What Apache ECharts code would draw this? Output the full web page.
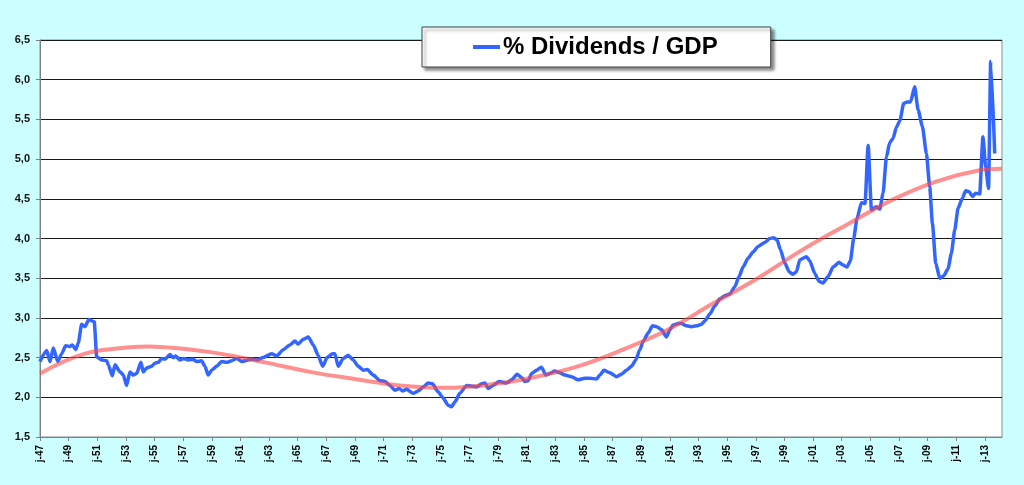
<!DOCTYPE html>
<html>
<head>
<meta charset="utf-8">
<script src="https://cdn.jsdelivr.net/npm/echarts@6/dist/echarts.min.js"></script>
<style>
	html, body {
		margin: 0;
		padding: 0;
		background: #ccffff;
	}

	#chart {
		width: 1024px;
		height: 485px;
	}
</style>
</head>
<body>
<div id="chart"></div>
<script>
	// % Dividends / GDP (year as decimal)
	var divYears = [
		1947.00, 1947.47, 1947.70, 1947.93, 1948.24, 1948.52, 1948.79, 1949.09, 1949.26, 1949.49,
		1949.67, 1949.91, 1950.14, 1950.42, 1950.65, 1950.79, 1950.96, 1951.31, 1951.66, 1951.77,
		1952.05, 1952.24, 1952.59, 1952.82, 1953.05, 1953.28, 1953.52, 1953.75, 1954.05, 1954.21,
		1954.45, 1954.80, 1955.03, 1955.26, 1955.50, 1955.73, 1956.08, 1956.31, 1956.48, 1956.78,
		1957.01, 1957.36, 1957.71, 1957.94, 1958.29, 1958.52, 1958.75, 1958.99, 1959.34, 1959.69,
		1960.04, 1960.39, 1960.74, 1961.09, 1961.55, 1961.90, 1962.14, 1962.59, 1963.18, 1963.53,
		1963.99, 1964.46, 1964.81, 1965.04, 1965.39, 1965.74, 1966.09, 1966.43, 1966.74, 1967.06,
		1967.44, 1967.60, 1967.83, 1968.18, 1968.53, 1968.88, 1969.23, 1969.58, 1969.86, 1970.28,
		1970.74, 1971.09, 1971.44, 1971.79, 1972.09, 1972.33, 1972.61, 1973.07, 1973.42, 1973.77,
		1974.12, 1974.42, 1974.81, 1975.16, 1975.51, 1975.75, 1975.98, 1976.33, 1976.80, 1977.15,
		1977.50, 1977.85, 1978.08, 1978.31, 1978.66, 1979.07, 1979.59, 1979.94, 1980.33, 1980.64,
		1980.87, 1981.10, 1981.34, 1981.69, 1982.03, 1982.34, 1982.61, 1982.96, 1983.31, 1983.66,
		1984.13, 1984.59, 1985.06, 1985.41, 1985.88, 1986.11, 1986.39, 1986.80, 1987.27, 1987.62,
		1987.97, 1988.32, 1988.62, 1988.90, 1989.13, 1989.48, 1989.79, 1990.07, 1990.42, 1990.76,
		1991.00, 1991.22, 1991.57, 1991.81, 1992.16, 1992.51, 1992.86, 1993.21, 1993.44, 1993.79,
		1994.14, 1994.49, 1994.83, 1995.18, 1995.53, 1995.83, 1996.11, 1996.46, 1996.81, 1997.16,
		1997.63, 1997.98, 1998.26, 1998.49, 1998.72, 1999.03, 1999.33, 1999.60, 1999.84, 2000.07,
		2000.54, 2000.77, 2001.12, 2001.42, 2001.70, 2002.05, 2002.40, 2002.82, 2003.05, 2003.37,
		2003.61, 2003.84, 2004.07, 2004.38, 2004.63, 2004.85, 2005.08, 2005.41, 2005.66, 2005.89,
		2006.13, 2006.36, 2006.59, 2006.82, 2007.06, 2007.33, 2007.57, 2007.81, 2008.10, 2008.34,
		2008.64, 2008.92, 2009.15, 2009.34, 2009.57, 2009.85, 2010.13, 2010.43, 2010.66, 2010.90,
		2011.13, 2011.44, 2011.66, 2011.90, 2012.14, 2012.36, 2012.64, 2012.87, 2013.06, 2013.26,
		2013.41, 2013.69
	];
	var divValues = [
		2.45, 2.59, 2.45, 2.62, 2.45, 2.55, 2.65, 2.64, 2.66, 2.60,
		2.68, 2.92, 2.89, 2.98, 2.96, 2.95, 2.51, 2.47, 2.46, 2.41,
		2.27, 2.41, 2.32, 2.28, 2.15, 2.32, 2.28, 2.30, 2.44, 2.32,
		2.37, 2.39, 2.43, 2.44, 2.49, 2.48, 2.54, 2.50, 2.52, 2.47,
		2.49, 2.47, 2.48, 2.45, 2.46, 2.39, 2.28, 2.34, 2.39, 2.45,
		2.44, 2.46, 2.49, 2.45, 2.47, 2.48, 2.47, 2.50, 2.55, 2.52,
		2.60, 2.66, 2.71, 2.67, 2.73, 2.76, 2.66, 2.53, 2.39, 2.50,
		2.55, 2.55, 2.39, 2.49, 2.53, 2.47, 2.39, 2.34, 2.35, 2.28,
		2.21, 2.20, 2.15, 2.09, 2.11, 2.08, 2.10, 2.05, 2.08, 2.13,
		2.18, 2.17, 2.07, 1.99, 1.90, 1.88, 1.94, 2.05, 2.15, 2.14,
		2.13, 2.17, 2.18, 2.11, 2.15, 2.20, 2.18, 2.22, 2.29, 2.25,
		2.20, 2.21, 2.30, 2.34, 2.38, 2.28, 2.30, 2.33, 2.31, 2.28,
		2.26, 2.22, 2.24, 2.24, 2.23, 2.28, 2.34, 2.31, 2.26, 2.29,
		2.34, 2.39, 2.47, 2.60, 2.70, 2.81, 2.90, 2.89, 2.85, 2.76,
		2.85, 2.91, 2.93, 2.93, 2.90, 2.89, 2.90, 2.92, 2.96, 3.05,
		3.15, 3.24, 3.28, 3.30, 3.39, 3.52, 3.64, 3.75, 3.83, 3.90,
		3.95, 4.00, 4.01, 3.98, 3.86, 3.69, 3.58, 3.55, 3.58, 3.73,
		3.77, 3.72, 3.56, 3.46, 3.44, 3.52, 3.64, 3.70, 3.67, 3.64,
		3.72, 4.00, 4.25, 4.45, 4.44, 5.17, 4.36, 4.40, 4.37, 4.57,
		5.03, 5.21, 5.26, 5.40, 5.48, 5.70, 5.72, 5.72, 5.91, 5.62,
		5.41, 5.07, 4.65, 4.19, 3.69, 3.50, 3.53, 3.62, 3.81, 4.11,
		4.38, 4.51, 4.60, 4.59, 4.53, 4.57, 4.56, 5.28, 4.90, 4.63,
		6.23, 5.07
	];

	// trend curve (red)
	var trendYears = [
		1947.00, 1950.14, 1953.28, 1954.60, 1956.43, 1959.57, 1962.71, 1965.85, 1969.00, 1972.14,
		1975.28, 1978.42, 1981.43, 1984.57, 1987.71, 1990.85, 1994.00, 1997.14, 2000.28, 2003.42,
		2006.57, 2009.64, 2012.64, 2014.18
	];
	var trendValues = [
		2.30, 2.55, 2.63, 2.64, 2.62, 2.55, 2.44, 2.32, 2.23, 2.15,
		2.12, 2.16, 2.25, 2.39, 2.60, 2.85, 3.18, 3.50, 3.86, 4.18,
		4.49, 4.72, 4.86, 4.88
	];

	var seriesName = '% Dividends / GDP';

	function pairs(xs, ys) {
		var out = [];
		for (var i = 0; i < xs.length; i++) {
			out.push([xs[i], ys[i]]);
		}
		return out;
	}

	var chart = echarts.init(document.getElementById('chart'));
	var option = {
		backgroundColor: '#ccffff',
		animation: false,
		textStyle: {
			fontFamily: 'Arial, "Liberation Sans", sans-serif'
		},
		grid: {
			left: 40,
			top: 40,
			right: 22,
			bottom: 48,
			show: true,
			backgroundColor: '#fff',
			borderColor: '#8c8c8c',
			borderWidth: 1
		},
		legend: {
			data: [seriesName],
			left: 422,
			top: 27,
			padding: [8, 53, 8, 51],
			backgroundColor: '#fff',
			borderColor: '#404040',
			borderWidth: 1,
			shadowColor: 'rgba(0,0,0,0.45)',
			shadowBlur: 3,
			shadowOffsetX: 3,
			shadowOffsetY: 3,
			icon: 'rect',
			itemWidth: 27,
			itemHeight: 4,
			itemGap: 0,
			textStyle: {
				fontSize: 24,
				fontWeight: 'bold',
				color: '#000',
				padding: [0, 0, 0, -2]
			}
		},
		xAxis: {
			type: 'value',
			min: 1947,
			max: 2014.2,
			interval: 2,
			axisLine: { lineStyle: { color: '#808080', width: 1 } },
			axisTick: { show: true, length: 4, lineStyle: { color: '#808080' } },
			splitLine: { show: false },
			axisLabel: {
				rotate: 90,
				margin: 8,
				fontSize: 10,
				fontWeight: 'bold',
				color: '#000',
				showMaxLabel: false,
				formatter: function (v) {
					if (Math.abs(v - Math.round(v)) > 0.001) return '';
					return 'j-' + String(Math.round(v)).slice(2);
				}
			}
		},
		yAxis: {
			type: 'value',
			min: 1.5,
			max: 6.5,
			interval: 0.5,
			axisLine: { show: true, lineStyle: { color: '#808080', width: 1 } },
			axisTick: { show: true, length: 4, lineStyle: { color: '#808080' } },
			splitLine: { lineStyle: { color: '#1a1a1a', width: 1 } },
			axisLabel: {
				margin: 10,
				fontSize: 11,
				fontWeight: 'bold',
				color: '#111',
				formatter: function (v) {
					return v.toFixed(1).replace('.', ',');
				}
			}
		},
		series: [
			{
				name: seriesName,
				type: 'line',
				data: pairs(divYears, divValues),
				showSymbol: false,
				smooth: 0.2,
				smoothMonotone: 'x',
				lineStyle: { color: '#3366ff', width: 3.5 },
				itemStyle: { color: '#3366ff' },
				z: 2
			},
			{
				name: 'trend',
				type: 'line',
				data: pairs(trendYears, trendValues),
				showSymbol: false,
				smooth: 0.4,
				lineStyle: { color: 'rgba(255,70,70,0.6)', width: 4 },
				itemStyle: { color: '#ff6666' },
				z: 3
			}
		]
	};
	chart.setOption(option);
</script>
</body>
</html>
